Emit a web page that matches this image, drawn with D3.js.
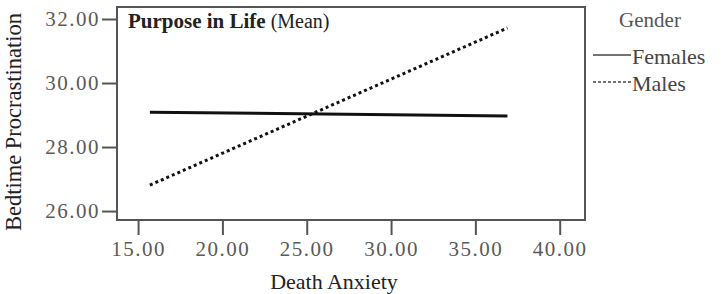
<!DOCTYPE html>
<html><head><meta charset="utf-8">
<script src="https://cdn.jsdelivr.net/npm/d3@7"></script>
<style>body{margin:0;background:#fff}svg{display:block}text{font-family:"Liberation Serif","Times New Roman",serif}</style>
</head><body><svg id="c" width="721" height="294"></svg>
<script>
const deathAnxiety = [15.7, 36.9];
const females = [29.09, 28.97];
const males = [26.81, 31.72];
const xTicks = [15, 20, 25, 30, 35, 40];
const yTicks = [26, 28, 30, 32];
const seriesNames = ["Females", "Males"];

const svg = d3.select("#c");
const L = 117, R = 585, T = 7, B = 220;
const x = d3.scaleLinear().domain([13.75, 41.5]).range([L, R]);
const y = d3.scaleLinear().domain([25.72, 32.375]).range([B, T]);

// frame
svg.append("rect").attr("x", L).attr("y", T).attr("width", R - L).attr("height", B - T)
  .attr("fill", "none").attr("stroke", "#555").attr("stroke-width", 2);

// axes
const yAxis = svg.append("g").attr("transform", `translate(${L},0)`)
  .call(d3.axisLeft(y).tickValues(yTicks).tickFormat(d3.format(".2f")).tickSize(15).tickPadding(2));
const xAxis = svg.append("g").attr("transform", `translate(0,${B})`)
  .call(d3.axisBottom(x).tickValues(xTicks).tickFormat(d3.format(".2f")).tickSize(15).tickPadding(6));
[yAxis, xAxis].forEach(a => {
  a.select(".domain").remove();
  a.selectAll(".tick line").attr("stroke", "#555").attr("stroke-width", 2);
  a.selectAll(".tick text").attr("fill", "#5a5a5a").style("font-size", "21px").style("letter-spacing", "1.5px");
});
xAxis.selectAll(".tick text").attr("dy", "0.71em");

// lines
const line = d3.line().x((d, i) => x(deathAnxiety[i])).y(d => y(d));
svg.append("path").datum(females).attr("d", line).attr("fill", "none")
  .attr("stroke", "#111").attr("stroke-width", 3);
svg.append("path").datum(males).attr("d", line).attr("fill", "none")
  .attr("stroke", "#111").attr("stroke-width", 3).attr("stroke-dasharray", "3,3");

// title
const t = svg.append("text").attr("x", 128).attr("y", 28).attr("fill", "#222");
t.append("tspan").text("Purpose in Life").style("font-size", "21px").style("font-weight", "bold");
t.append("tspan").text(" (Mean)").style("font-size", "20px");

// axis titles
svg.append("text").attr("x", 334).attr("y", 289).attr("text-anchor", "middle")
  .style("font-size", "22px").attr("fill", "#222").text("Death Anxiety");
svg.append("text").attr("transform", "translate(21,122) rotate(-90)").attr("text-anchor", "middle")
  .style("font-size", "22.5px").attr("fill", "#222").text("Bedtime Procrastination");

// legend
svg.append("text").attr("x", 650).attr("y", 27).attr("text-anchor", "middle")
  .style("font-size", "21px").attr("fill", "#555").text("Gender");
seriesNames.forEach((n, i) => {
  const yy = 55 + i * 27;
  svg.append("line").attr("x1", 593).attr("x2", 631).attr("y1", yy).attr("y2", yy)
    .attr("stroke", "#444").attr("stroke-width", 1.5).attr("stroke-dasharray", i ? "3,2" : null);
  svg.append("text").attr("x", 632).attr("y", yy + 9).style("font-size", "22px")
    .attr("fill", "#444").text(n);
});
</script></body></html>
